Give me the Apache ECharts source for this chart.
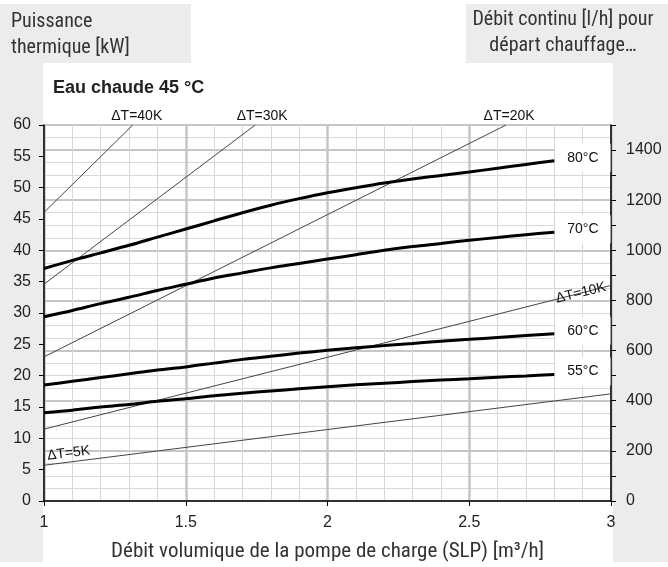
<!DOCTYPE html>
<html><head><meta charset="utf-8">
<script src="https://cdn.jsdelivr.net/npm/echarts@6/dist/echarts.min.js"></script>
<style>html,body{margin:0;padding:0;background:#fff}#c{width:668px;height:567px}</style>
</head><body><div id="c"></div>
<script>
// ---- data ----
const flowX = [1.0, 1.1, 1.2, 1.3, 1.4, 1.5, 1.6, 1.7, 1.8, 1.9, 2.0, 2.1, 2.2, 2.3, 2.4, 2.5, 2.6, 2.7, 2.8];
const curve80 = [37.1, 38.4, 39.6, 40.8, 42.1, 43.4, 44.7, 46.0, 47.2, 48.25, 49.2, 50.0, 50.75, 51.4, 51.95, 52.5, 53.1, 53.7, 54.3];
const curve70 = [29.4, 30.4, 31.5, 32.5, 33.6, 34.6, 35.6, 36.4, 37.2, 37.9, 38.6, 39.3, 40.0, 40.6, 41.1, 41.6, 42.05, 42.5, 42.9];
const curve60 = [18.5, 19.1, 19.7, 20.3, 20.9, 21.4, 22.0, 22.6, 23.1, 23.6, 24.05, 24.45, 24.8, 25.15, 25.5, 25.8, 26.1, 26.4, 26.7];
const curve55 = [14.1, 14.5, 15.0, 15.4, 15.9, 16.3, 16.8, 17.2, 17.55, 17.9, 18.25, 18.55, 18.8, 19.05, 19.3, 19.5, 19.75, 19.95, 20.2];
const curveNames = ['80°C', '70°C', '60°C', '55°C'];
// ΔT straight lines: [start point, end point]
const dT40 = [[1, 46.05], [1.313, 60]];
const dT30 = [[1, 34.6], [1.745, 60]];
const dT20 = [[1, 23.0], [2.63, 60]];
const dT10 = [[1, 11.47], [3, 34.4]];
const dT5  = [[1, 5.7], [3, 17.1]];
const dTNames = ['ΔT=40K', 'ΔT=30K', 'ΔT=20K', 'ΔT=10K', 'ΔT=5K'];
const leftMax = 60, leftStep = 5;
const rightMax = 1500, rightStep = 100, rightLabelStep = 200;

const FONT = "'Liberation Sans', Arial, sans-serif";
const NARROW = "'Roboto Condensed', 'Liberation Sans', sans-serif";
const chart = echarts.init(document.getElementById('c'));

function zip(xs, ys) { return xs.map((x, i) => [x, ys[i]]); }
function curveSeries(name, ys) {
  return {
    type: 'line', name: name, data: zip(flowX, ys), smooth: 0.3, symbol: 'none', z: 5,
    lineStyle: { color: '#000', width: 3 },
    endLabel: { show: true, formatter: name, backgroundColor: '#fff', padding: [7, 12, 7, 12], distance: 1,
      fontSize: 14, fontFamily: FONT, color: '#111', offset: [0, -3] }
  };
}
function dtSeries(name, pts, labelIdx, lbl) {
  const data = pts.map((p, i) => i === labelIdx
    ? { value: p, label: Object.assign({ show: true, formatter: name, fontSize: 14, fontFamily: FONT, color: '#111' }, lbl) }
    : p);
  return { type: 'line', name: name, data: data, symbol: 'circle', symbolSize: 0, showSymbol: true, z: 4,
    itemStyle: { color: '#444' }, lineStyle: { color: '#444', width: 1 }, label: { show: false } };
}

const hiddenY = (interval, color, width) => ({
  type: 'value', min: 0, max: rightMax, interval: interval, position: 'right', show: true,
  axisLine: { show: false }, axisTick: { show: false }, axisLabel: { show: false },
  splitLine: { show: true, lineStyle: { color: color, width: width } }
});

chart.setOption({
  backgroundColor: '#fff',
  animation: false,
  graphic: [
    { type: 'rect', z: -100, shape: { x: 0, y: 4, width: 191, height: 59 }, style: { fill: '#ececec' } },
    { type: 'rect', z: -100, shape: { x: 0, y: 63, width: 43, height: 499 }, style: { fill: '#ececec' } },
    { type: 'rect', z: -100, shape: { x: 466, y: 4, width: 202, height: 59 }, style: { fill: '#ececec' } },
    { type: 'rect', z: -100, shape: { x: 613, y: 63, width: 55, height: 499 }, style: { fill: '#ececec' } },
    { type: 'text', x: 11, y: 9, style: { text: 'Puissance\nthermique [kW]', font: "20px " + NARROW, fill: '#333', lineHeight: 26, align: 'left', verticalAlign: 'top' } },
    { type: 'text', x: 563, y: 7, style: { text: 'Débit continu [l/h] pour\ndépart chauffage…', font: "20px " + NARROW, fill: '#333', lineHeight: 26, align: 'center', verticalAlign: 'top' } },
    { type: 'text', x: 53, y: 88, style: { text: 'Eau chaude 45 °C', font: "bold 18px " + FONT, fill: '#222', align: 'left', verticalAlign: 'middle' } }
  ],
  grid: { left: 44, right: 57, top: 125, bottom: 62, show: true, borderColor: '#333', borderWidth: 1, backgroundColor: '#fff' },
  xAxis: {
    type: 'value', min: 1, max: 3, interval: 0.5,
    name: 'Débit volumique de la pompe de charge (SLP) [m³/h]', nameLocation: 'middle', nameGap: 40,
    nameTextStyle: { fontSize: 21, fontFamily: NARROW, color: '#333' },
    axisLine: { lineStyle: { color: '#000', width: 1.5 } },
    axisTick: { show: true, length: 5, lineStyle: { color: '#000' } },
    axisLabel: { fontSize: 16, fontFamily: FONT, color: '#222', margin: 14 },
    splitLine: { show: true, lineStyle: { color: '#c6c6c6', width: 2.5 } },
    minorTick: { show: false, splitNumber: 5 },
    minorSplitLine: { show: true, lineStyle: { color: '#d8d8d8', width: 1 } }
  },
  yAxis: [
    { type: 'value', min: 0, max: leftMax, interval: leftStep, position: 'left',
      axisLine: { show: true, lineStyle: { color: '#000', width: 1.5 } },
      axisTick: { show: true, length: 5, lineStyle: { color: '#000' } },
      axisLabel: { fontSize: 16, fontFamily: FONT, color: '#222', margin: 13 },
      splitLine: { show: false } },
    { type: 'value', min: 0, max: rightMax, interval: rightStep, position: 'right',
      axisLine: { show: true, lineStyle: { color: '#000', width: 1.5 } },
      axisTick: { show: true, length: 5, lineStyle: { color: '#000' } },
      axisLabel: { fontSize: 16, fontFamily: FONT, color: '#222', margin: 15,
        formatter: v => (v % rightLabelStep === 0 && v < rightMax) ? String(v) : '' },
      splitLine: { show: false } },
    hiddenY(50, '#d8d8d8', 1),
    hiddenY(200, '#c6c6c6', 2)
  ],
  series: [
    dtSeries(dTNames[0], dT40, 1, { position: 'top', distance: 2, offset: [4, 0] }),
    dtSeries(dTNames[1], dT30, 1, { position: 'top', distance: 2, offset: [7, 0] }),
    dtSeries(dTNames[2], dT20, 1, { position: 'top', distance: 2, offset: [3, 0] }),
    dtSeries(dTNames[3], dT10, 1, { position: 'inside', offset: [-31, 0], rotate: 14 }),
    dtSeries(dTNames[4], dT5, 0, { position: 'inside', offset: [26, -9], rotate: 7 }),
    curveSeries(curveNames[0], curve80),
    curveSeries(curveNames[1], curve70),
    curveSeries(curveNames[2], curve60),
    curveSeries(curveNames[3], curve55)
  ]
});
</script></body></html>
